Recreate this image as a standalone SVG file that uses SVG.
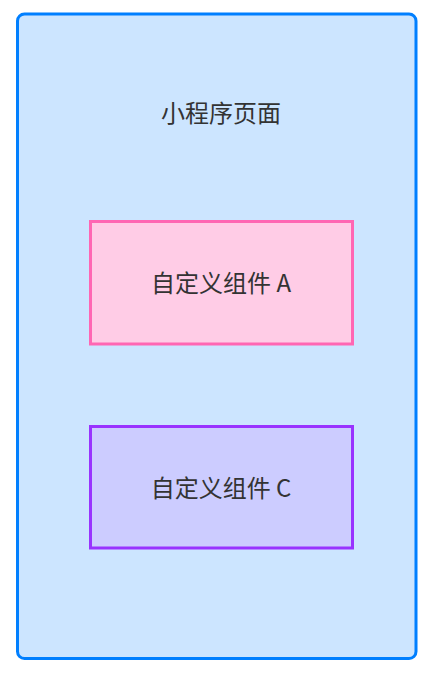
<svg xmlns="http://www.w3.org/2000/svg" width="431" height="675" viewBox="0 0 431 675">
<style>
text{font-family:"Microsoft YaHei","Noto Sans CJK SC","Liberation Sans",sans-serif;font-size:24px;fill:#333333;text-anchor:middle;dominant-baseline:central}
</style>
<rect width="431" height="675" fill="#ffffff"/>
<g id="page">
<rect x="17.5" y="14" width="398.5" height="644.5" rx="7" ry="7" fill="#CCE5FF" stroke="#007FFF" stroke-width="3"/>
<text x="221" y="111">小程序页面</text>
</g>
<g id="compA">
<rect x="90.5" y="221.5" width="262" height="122.5" fill="#FFCCE6" stroke="#FF66B3" stroke-width="3"/>
<text x="221" y="281">自定义组件 A</text>
</g>
<g id="compC">
<rect x="90.5" y="426.5" width="262" height="121.5" fill="#CCCCFF" stroke="#9933FF" stroke-width="3"/>
<text x="221" y="486">自定义组件 C</text>
</g>
<g id="connectors"></g>
</svg>
